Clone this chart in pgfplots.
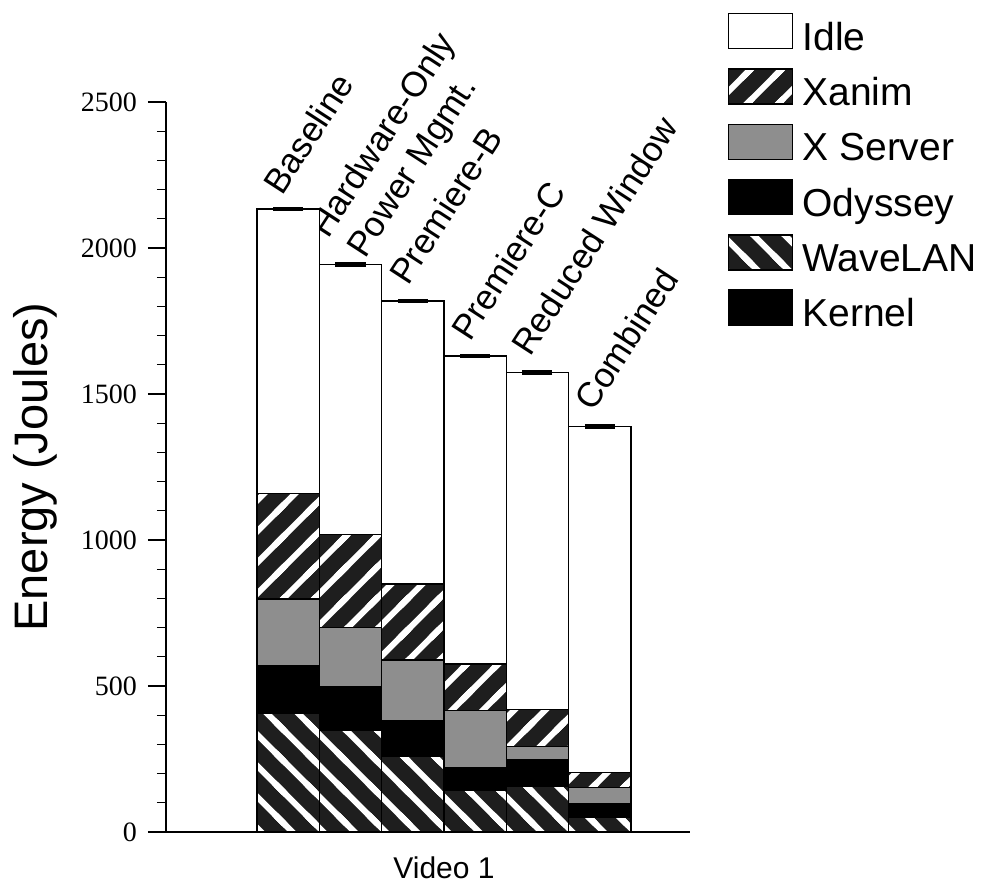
\documentclass[border=0pt]{standalone}
\usepackage{fontspec}
\setmainfont{Liberation Sans}
\newfontfamily\tickfont{Liberation Serif}
\usepackage{pgfplots}
\pgfplotsset{compat=1.18}
\usetikzlibrary{patterns}
\definecolor{hatchdark}{HTML}{1E1E1E}
\definecolor{xgray}{HTML}{8E8E8E}
\pgfdeclarepatternformonly{bigNE}{\pgfqpoint{-3pt}{-3pt}}{\pgfqpoint{18.56pt}{18.56pt}}{\pgfqpoint{15.56pt}{15.56pt}}{%
  \pgfsetlinewidth{3pt}%
  \pgfpathmoveto{\pgfqpoint{-3pt}{-3pt}}\pgfpathlineto{\pgfqpoint{18.56pt}{18.56pt}}%
  \pgfpathmoveto{\pgfqpoint{-3pt}{12.56pt}}\pgfpathlineto{\pgfqpoint{3pt}{18.56pt}}%
  \pgfpathmoveto{\pgfqpoint{12.56pt}{-3pt}}\pgfpathlineto{\pgfqpoint{18.56pt}{3pt}}%
  \pgfusepath{stroke}}
\pgfdeclarepatternformonly{bigNW}{\pgfqpoint{-3pt}{-3pt}}{\pgfqpoint{18.56pt}{18.56pt}}{\pgfqpoint{15.56pt}{15.56pt}}{%
  \pgfsetlinewidth{3pt}%
  \pgfpathmoveto{\pgfqpoint{-3pt}{18.56pt}}\pgfpathlineto{\pgfqpoint{18.56pt}{-3pt}}%
  \pgfpathmoveto{\pgfqpoint{-3pt}{3pt}}\pgfpathlineto{\pgfqpoint{3pt}{-3pt}}%
  \pgfpathmoveto{\pgfqpoint{12.56pt}{18.56pt}}\pgfpathlineto{\pgfqpoint{18.56pt}{12.56pt}}%
  \pgfusepath{stroke}}
\tikzset{barlab/.style={rotate=57, anchor=base west, inner sep=0pt, font=\fontsize{17.5}{20}\selectfont}}
\newcommand{\legtxt}[1]{\raisebox{-5.75pt}[9.2pt][9.2pt]{#1}}
\newcommand{\tf}{\tickfont\fontsize{14}{16}\selectfont}
\begin{document}
\begin{tikzpicture}
\begin{axis}[
  width=262pt, height=365pt, scale only axis,
  xmin=0, xmax=8.407, ymin=0, ymax=2500,
  clip=false,
  axis lines=left, axis line style={-, line width=0.7pt},
  ybar stacked, bar width=1,
  ytick={0,500,1000,1500,2000,2500},
  yticklabels={\tf 0,\tf 500,\tf 1000,\tf 1500,\tf 2000,\tf 2500},
  minor y tick num=4,
  tick align=outside,
  major tick length=9pt, minor tick length=4.5pt,
  tick style={line width=0.6pt, black},
  yticklabel style={font=\tf, xshift=-2pt},
  xtick={4.46}, xticklabels={Video 1},
  x tick style={draw=none},
  xticklabel style={font=\fontsize{15}{18}\selectfont, yshift=0pt},
  ylabel={Energy (Joules)},
  ylabel style={font=\fontsize{23.5}{28}\selectfont},
  every axis y label/.append style={at={(axis description cs:-0.25,0.5)}, anchor=center},
  area legend,
  legend image code/.code={\draw[#1, draw=black, line width=0.75pt] (0pt,-8.75pt) rectangle (32pt,8.75pt); \path (36.5pt,0pt);},
  reverse legend,
  legend style={draw=none, fill=none, at={(axis description cs:1.0725,1.122)}, anchor=north west,
    inner sep=0pt, outer sep=0pt, row sep=9.4pt,
    font=\fontsize{19.5}{22}\selectfont,
    nodes={inner sep=0pt}},
  legend cell align=left,
]
\addplot[fill=black, draw=black, line width=0.75pt] coordinates {(1.96,0) (2.96,0) (3.96,0) (4.96,0) (5.96,0) (6.96,0)};
\addplot[fill=hatchdark, draw=black, line width=0.75pt,
  postaction={pattern=bigNW, pattern color=white}]
  coordinates {(1.96,406) (2.96,349) (3.96,258) (4.96,142) (5.96,158) (6.96,52)};
\addplot[fill=black, draw=black, line width=0.75pt]
  coordinates {(1.96,164) (2.96,149) (3.96,122) (4.96,79) (5.96,91) (6.96,46)};
\addplot[fill=xgray, draw=black, line width=0.75pt]
  coordinates {(1.96,228) (2.96,202) (3.96,209) (4.96,195) (5.96,43) (6.96,54)};
\addplot[fill=hatchdark, draw=black, line width=0.75pt,
  postaction={pattern=bigNE, pattern color=white}]
  coordinates {(1.96,362) (2.96,319) (3.96,260) (4.96,159) (5.96,128) (6.96,51)};
\addplot[fill=white, draw=black, line width=0.75pt]
  coordinates {(1.96,973) (2.96,925) (3.96,969) (4.96,1055) (5.96,1153) (6.96,1186)};
\legend{\legtxt{Kernel}, \legtxt{WaveLAN}, \legtxt{Odyssey}, \legtxt{X Server}, \legtxt{Xanim}, \legtxt{Idle}}
\node[barlab] at (axis cs:1.861,2175) {Baseline};
\node[barlab] at (axis cs:2.599,2027) {Hardware-Only};
\node[barlab] at (axis cs:3.193,1959) {Power Mgmt.};
\node[barlab] at (axis cs:3.883,1866) {Premiere-B};
\node[barlab] at (axis cs:4.877,1675) {Premiere-C};
\node[barlab] at (axis cs:5.840,1623) {Reduced Window};
\node[barlab] at (axis cs:6.851,1435) {Combined};
\end{axis}
\begin{axis}[
  width=262pt, height=365pt, scale only axis,
  xmin=0, xmax=8.407, ymin=0, ymax=2500,
  axis lines=none, clip=false,
]
\addplot[draw=none, mark=none,
  error bars/.cd, y dir=both, y fixed=3, error mark=|,
  error bar style={line width=0.75pt, black, solid},
  error mark options={line width=1.3pt, mark size=7.5pt, black, solid}]
  coordinates {(1.96,2133) (2.96,1944) (3.96,1818) (4.96,1630) (5.96,1573) (6.96,1389)};
\end{axis}
\pgfresetboundingbox
\useasboundingbox (-83pt,-25pt) rectangle (408.5pt,416pt);
\end{tikzpicture}
\end{document}
